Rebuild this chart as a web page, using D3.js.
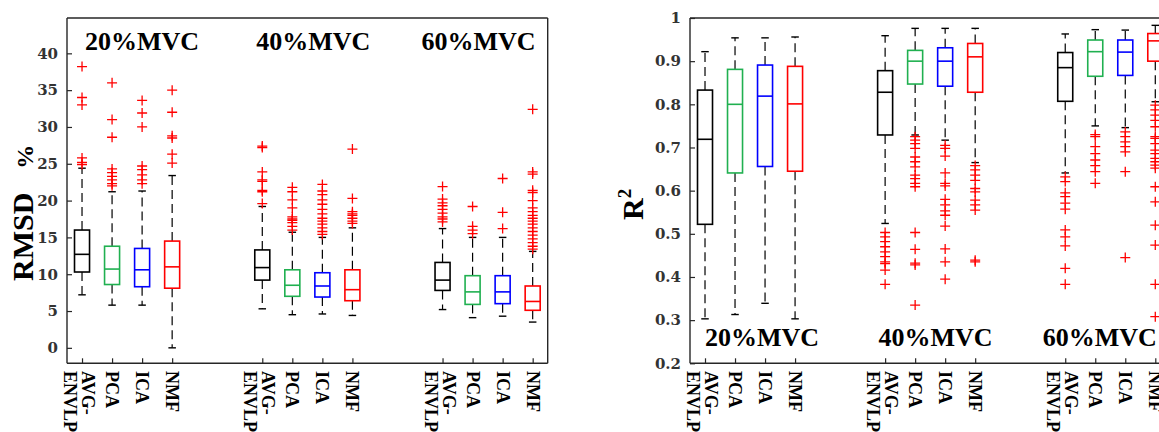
<!DOCTYPE html>
<html><head><meta charset="utf-8">
<script src="https://cdn.jsdelivr.net/npm/d3@7/dist/d3.min.js"></script>
<style>body{margin:0;background:#fff}</style></head>
<body><svg id="c" width="1159" height="432"></svg>
<script>
// ---------- DATA ----------
const methods = ["AVG-ENVLP", "PCA", "ICA", "NMF"];
const levels = ["20%MVC", "40%MVC", "60%MVC"];
const methodColors = ["#000000", "#20b050", "#0000ff", "#ff0000"];

// order: 20% (AVG,PCA,ICA,NMF), 40% (...), 60% (...)
const rmsdLo  = [7.2, 5.8, 5.8, 0.0,   5.3, 4.5, 4.6, 4.4,   5.2, 4.1, 4.3, 3.5];
const rmsdQ1  = [10.3, 8.6, 8.3, 8.1,  9.2, 7.0, 6.9, 6.4,   7.8, 5.9, 6.0, 5.1];
const rmsdMed = [12.7, 10.7, 10.6, 11.0, 10.9, 8.5, 8.4, 7.9, 9.2, 7.6, 7.6, 6.3];
const rmsdQ3  = [16.0, 13.8, 13.5, 14.5, 13.3, 10.6, 10.2, 10.6, 11.6, 9.8, 9.8, 8.4];
const rmsdHi  = [24.4, 21.2, 21.3, 23.4, 19.2, 15.7, 15.0, 16.3, 16.2, 15.0, 15.0, 13.1];
const rmsdOut = [
  [38.2, 34.0, 33.0, 25.8, 25.2, 24.9],
  [36.0, 31.0, 28.6, 24.3, 23.8, 23.3, 22.8, 22.3, 22.0],
  [33.6, 31.9, 30.0, 24.7, 24.2, 23.5, 22.8, 22.3],
  [35.0, 32.0, 28.8, 28.5, 26.3, 25.1],
  [27.4, 27.2, 23.9, 22.8, 22.6, 21.4, 21.2, 19.6],
  [21.8, 21.2, 20.1, 19.0, 17.8, 17.5, 17.3, 17.0, 16.5, 16.0],
  [22.2, 21.3, 20.8, 20.1, 19.5, 18.8, 18.2, 17.6, 17.2, 16.8, 16.3, 15.8, 15.4],
  [27.0, 20.3, 18.5, 18.2, 18.0, 17.6, 17.2, 16.9],
  [21.9, 20.2, 19.7, 19.3, 18.8, 18.3, 17.8, 17.5, 17.1],
  [19.2, 16.5, 16.0, 15.5],
  [23.0, 18.4, 16.2],
  [32.4, 23.9, 23.6, 21.4, 21.1, 20.0, 19.0, 18.5, 18.0, 17.6, 17.2, 16.8, 16.3, 15.8, 15.3, 14.8, 14.3, 13.8, 13.4]
];
const rmsdTicks = [0, 5, 10, 15, 20, 25, 30, 35, 40];

const r2Lo  = [0.303, 0.313, 0.339, 0.303, 0.524, 0.729, 0.717, 0.665, 0.641, 0.750, 0.746, 0.806];
const r2Q1  = [0.522, 0.641, 0.656, 0.645, 0.729, 0.847, 0.842, 0.828, 0.807, 0.865, 0.867, 0.900];
const r2Med = [0.719, 0.800, 0.819, 0.801, 0.828, 0.900, 0.900, 0.910, 0.885, 0.922, 0.921, 0.947];
const r2Q3  = [0.833, 0.881, 0.891, 0.888, 0.878, 0.925, 0.931, 0.941, 0.920, 0.949, 0.949, 0.964];
const r2Hi  = [0.922, 0.954, 0.954, 0.956, 0.959, 0.976, 0.976, 0.976, 0.963, 0.973, 0.972, 0.983];
const r2Out = [
  [], [], [], [],
  [0.503, 0.493, 0.482, 0.470, 0.458, 0.447, 0.435, 0.431, 0.416, 0.383],
  [0.725, 0.717, 0.709, 0.698, 0.678, 0.667, 0.655, 0.636, 0.628, 0.617, 0.609, 0.503, 0.464, 0.432, 0.428, 0.335],
  [0.705, 0.698, 0.680, 0.641, 0.617, 0.611, 0.580, 0.567, 0.553, 0.543, 0.518, 0.465, 0.435, 0.395],
  [0.658, 0.648, 0.636, 0.624, 0.605, 0.597, 0.578, 0.567, 0.555, 0.439, 0.435],
  [0.632, 0.621, 0.595, 0.586, 0.571, 0.557, 0.509, 0.493, 0.472, 0.420, 0.383],
  [0.730, 0.725, 0.702, 0.686, 0.671, 0.658, 0.644, 0.617],
  [0.736, 0.725, 0.713, 0.702, 0.690, 0.644, 0.445],
  [0.798, 0.787, 0.775, 0.763, 0.748, 0.725, 0.721, 0.709, 0.694, 0.686, 0.675, 0.667, 0.659, 0.652, 0.609, 0.574, 0.520, 0.474, 0.383, 0.308]
];
const r2Ticks = [0.2, 0.3, 0.4, 0.5, 0.6, 0.7, 0.8, 0.9, 1];

// ---------- DRAW ----------
const svg = d3.select("#c");
const serif = "'Liberation Serif', 'Times New Roman', serif";
const tickFont = "'DejaVu Serif', serif";

// box positions: 4 per level, 2-slot gap between levels
const boxes = [];
levels.forEach((lv, li) => methods.forEach((m, mi) => {
  boxes.push({ level: li, method: mi, pos: li * 6 + mi + 1 });
}));

function panel(opt) {
  const x = d3.scaleLinear().domain([0.5, 16.5]).range([opt.x0, opt.x1]);
  const y = d3.scaleLinear().domain(opt.yDomain).range([363.3, 18]);
  const g = svg.append("g");

  // y axis
  const ya = g.append("g").attr("transform", `translate(${opt.x0},0)`)
    .call(d3.axisLeft(y).tickValues(opt.ticks).tickSizeInner(-5).tickSizeOuter(0)
      .tickPadding(9).tickFormat(opt.fmt));
  ya.select(".domain").remove();
  ya.selectAll(".tick line").attr("stroke", "#262626").attr("stroke-width", 1.2);
  ya.selectAll("text").attr("font-family", tickFont).attr("font-weight", "bold")
    .attr("font-size", 15).attr("fill", "#333");

  // x axis ticks
  const xa = g.append("g").attr("transform", `translate(0,363.3)`)
    .call(d3.axisBottom(x).tickValues(boxes.map(b => b.pos)).tickSizeInner(-5)
      .tickSizeOuter(0).tickFormat(""));
  xa.select(".domain").remove();
  xa.selectAll(".tick line").attr("stroke", "#262626").attr("stroke-width", 1.2);

  // frame
  const fr = g.append("g").attr("stroke", "#262626").attr("stroke-width", 1.4).attr("fill", "none");
  fr.append("line").attr("x1", opt.x0).attr("x2", opt.x0).attr("y1", 18).attr("y2", 363.3);
  fr.append("line").attr("x1", opt.x0).attr("x2", opt.x1).attr("y1", 363.3).attr("y2", 363.3);
  fr.append("line").attr("x1", opt.x0).attr("x2", opt.x1).attr("y1", 18).attr("y2", 18);
  fr.append("line").attr("x1", opt.x1).attr("x2", opt.x1).attr("y1", 18).attr("y2", 363.3);

  // x tick labels
  boxes.forEach(b => {
    const t = g.append("text")
      .attr("transform", `translate(${x(b.pos)},371) rotate(90)`)
      .attr("font-family", serif).attr("font-weight", "bold").attr("font-size", 18)
      .attr("fill", "#000");
    const name = methods[b.method];
    if (name.includes("-")) {
      const parts = name.split("-");
      t.append("tspan").attr("x", 0).attr("y", 0).text(parts[0] + "-");
      t.append("tspan").attr("x", 0).attr("y", 18).text(parts[1]);
    } else {
      t.append("tspan").attr("x", 0).attr("y", 6).text(name);
    }
  });

  const hw = (x(1.25) - x(1)); // half box width (0.5 units box)
  const cw = (x(1.125) - x(1)); // half cap width
  boxes.forEach((b, i) => {
    const cx = x(b.pos), col = methodColors[b.method];
    const bg = g.append("g");
    // whiskers
    bg.append("line").attr("x1", cx).attr("x2", cx).attr("y1", y(opt.q3[i])).attr("y2", y(opt.hi[i]))
      .attr("stroke", "#000").attr("stroke-width", 1.2).attr("stroke-dasharray", "9,5");
    bg.append("line").attr("x1", cx).attr("x2", cx).attr("y1", y(opt.q1[i])).attr("y2", y(opt.lo[i]))
      .attr("stroke", "#000").attr("stroke-width", 1.2).attr("stroke-dasharray", "9,5");
    [opt.hi[i], opt.lo[i]].forEach(v => bg.append("line")
      .attr("x1", cx - cw).attr("x2", cx + cw).attr("y1", y(v)).attr("y2", y(v))
      .attr("stroke", "#000").attr("stroke-width", 1.4));
    // box
    bg.append("rect").attr("x", cx - hw).attr("width", 2 * hw)
      .attr("y", y(opt.q3[i])).attr("height", y(opt.q1[i]) - y(opt.q3[i]))
      .attr("fill", "none").attr("stroke", col).attr("stroke-width", 1.6);
    bg.append("line").attr("x1", cx - hw).attr("x2", cx + hw)
      .attr("y1", y(opt.med[i])).attr("y2", y(opt.med[i]))
      .attr("stroke", col).attr("stroke-width", 1.6);
    // outliers
    opt.out[i].forEach(v => {
      bg.append("path").attr("d", `M${cx - 5},${y(v)}H${cx + 5}M${cx},${y(v) - 5}V${y(v) + 5}`)
        .attr("stroke", "#ff0000").attr("stroke-width", 1.3).attr("fill", "none");
    });
  });

  // level labels
  levels.forEach((lv, li) => {
    g.append("text").attr("x", x(opt.labelPos[li])).attr("y", opt.labelY)
      .attr("font-family", serif).attr("font-weight", "bold").attr("font-size", 26)
      .attr("fill", "#000").text(lv);
  });
  return g;
}

panel({
  x0: 67, x1: 547.7, yDomain: [-2.1, 44.8], ticks: rmsdTicks, fmt: d3.format("d"),
  lo: rmsdLo, q1: rmsdQ1, med: rmsdMed, q3: rmsdQ3, hi: rmsdHi, out: rmsdOut,
  labelPos: [1.1, 6.8, 12.3], labelY: 50
});
panel({
  x0: 690, x1: 1170.3, yDomain: [0.2, 1.0], ticks: r2Ticks, fmt: d => d === 1 ? "1" : d3.format(".1f")(d),
  lo: r2Lo, q1: r2Q1, med: r2Med, q3: r2Q3, hi: r2Hi, out: r2Out,
  labelPos: [1.0, 6.78, 12.25], labelY: 345.7
});

// y axis titles
const t1 = svg.append("text").attr("transform", "translate(33,281) rotate(-90)")
  .attr("font-family", serif).attr("font-weight", "bold").attr("font-size", 30).attr("fill", "#000");
t1.append("tspan").text("RMSD");
t1.append("tspan").attr("dx", 24).attr("font-size", 24).text("%");

const t2 = svg.append("text").attr("transform", "translate(643,220) rotate(-90)")
  .attr("font-family", serif).attr("font-weight", "bold").attr("font-size", 30).attr("fill", "#000");
t2.append("tspan").text("R");
t2.append("tspan").attr("dy", -12).attr("font-size", 19).text("2");
</script></body></html>
